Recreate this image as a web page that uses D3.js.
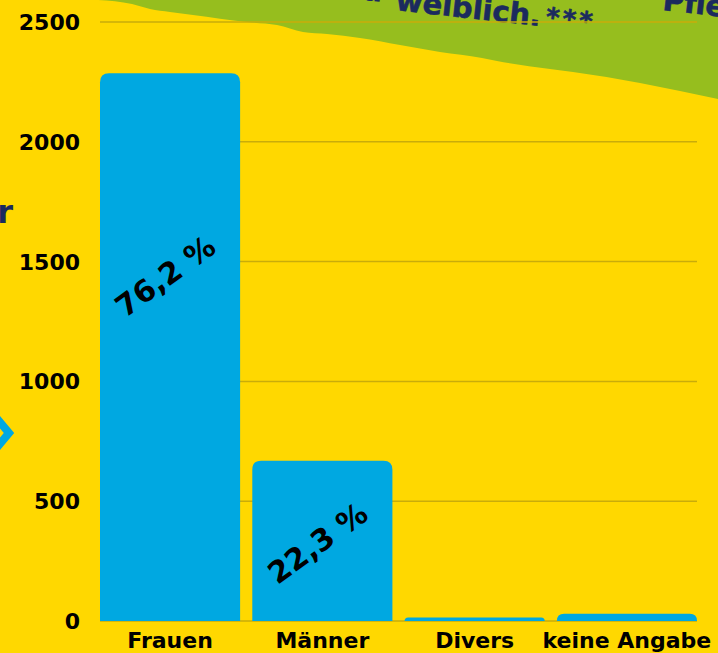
<!DOCTYPE html>
<html>
<head>
<meta charset="utf-8">
<script src="https://cdn.jsdelivr.net/npm/d3@7"></script>
<style>
  body { margin: 0; background: #ffd800; }
  svg { display: block; }
</style>
</head>
<body>
<svg id="chart" width="718" height="653"></svg>
<script>
// Data
const categories = ["Frauen", "Männer", "Divers", "keine Angabe"];
const values = [2286, 669, 15, 30];
const shareLabels = ["76,2 %", "22,3 %", "", ""];
const shareLabelAt = [1440, 326]; // value at which the share label is centred
const yTicks = [0, 500, 1000, 1500, 2000, 2500];

// Colours
const YELLOW = "#ffd800";
const GREEN = "#96be1e";
const BLUE = "#00a8e1";
const NAVY = "#1b2a5e";
const GRID = "#c9ac0a";
const FONT = "'DejaVu Sans', sans-serif";

const svg = d3.select("#chart");
const W = 718;

const x = d3.scaleBand().domain(categories).range([100, 697]).paddingInner(0.08).paddingOuter(0);
const y = d3.scaleLinear().domain([0, 2500]).range([621, 22]);

svg.append("rect").attr("width", W).attr("height", 653).attr("fill", YELLOW);

// Green decoration band in the top right corner
const bandEdge = [
  [98, 0], [132, 4], [150, 9], [170, 12], [193, 15], [247, 22], [277, 25],
  [303, 32], [327, 34], [360, 38], [400, 45], [440, 52], [482, 58], [497, 61],
  [550, 69], [573, 72], [640, 83], [680, 91], [718, 99]
];
const bandPath = d3.line().curve(d3.curveMonotoneX)(bandEdge) + `L${W},0Z`;
svg.append("path").attr("d", bandPath).attr("fill", GREEN);

const bandText = svg.append("g")
  .attr("fill", NAVY)
  .attr("font-family", FONT)
  .attr("font-weight", "bold");

bandText.append("text")
  .attr("transform", "translate(395,10) rotate(6.3)")
  .attr("font-size", 29)
  .attr("stroke", NAVY)
  .attr("stroke-width", 0.6)
  .text("weiblich.")
  .append("tspan")
  .attr("font-size", 26)
  .attr("dx", 5)
  .attr("dy", -1)
  .attr("letter-spacing", 3)
  .text("***");

bandText.append("text")
  .attr("transform", "translate(382,2) rotate(6.3)")
  .attr("font-size", 29)
  .attr("text-anchor", "end")
  .text("sind");

bandText.append("text")
  .attr("transform", "translate(662,10) rotate(6.3)")
  .attr("font-size", 29)
  .attr("stroke", NAVY)
  .attr("stroke-width", 0.6)
  .text("Pflege");

// Left edge fragments
svg.append("text")
  .attr("x", 13)
  .attr("y", 223)
  .attr("text-anchor", "end")
  .attr("font-family", FONT)
  .attr("font-weight", "bold")
  .attr("font-size", 32)
  .attr("fill", NAVY)
  .text("er");

svg.append("path")
  .attr("d", "M-6,415L9,433L-6,451")
  .attr("fill", "none")
  .attr("stroke", BLUE)
  .attr("stroke-width", 8);

// Grid lines
svg.append("g")
  .selectAll("line")
  .data(yTicks)
  .join("line")
  .attr("x1", x.range()[0])
  .attr("x2", x.range()[1])
  .attr("y1", (d) => y(d))
  .attr("y2", (d) => y(d))
  .attr("stroke", GRID)
  .attr("stroke-width", 1.5);

// Y tick labels
svg.append("g")
  .selectAll("text")
  .data(yTicks)
  .join("text")
  .attr("x", 80)
  .attr("y", (d) => y(d))
  .attr("dy", "0.36em")
  .attr("text-anchor", "end")
  .attr("font-family", FONT)
  .attr("font-weight", "bold")
  .attr("font-size", 22)
  .attr("fill", "#000")
  .text((d) => d);

// Bars with rounded top corners
function topRounded(x0, y0, w, h, r) {
  r = Math.min(r, h, w / 2);
  return `M${x0},${y0 + h}V${y0 + r}Q${x0},${y0} ${x0 + r},${y0}` +
    `H${x0 + w - r}Q${x0 + w},${y0} ${x0 + w},${y0 + r}V${y0 + h}Z`;
}

svg.append("g")
  .selectAll("path")
  .data(categories)
  .join("path")
  .attr("d", (d, i) => topRounded(x(d), y(values[i]), x.bandwidth(), y(0) - y(values[i]), 9))
  .attr("fill", BLUE);

// Share labels inside bars
svg.append("g")
  .selectAll("text")
  .data(categories.filter((d, i) => shareLabels[i]))
  .join("text")
  .attr("transform", (d, i) =>
    `translate(${x(d) + x.bandwidth() / 2 - 5},${y(shareLabelAt[i])}) rotate(-36)`)
  .attr("dy", "0.36em")
  .attr("text-anchor", "middle")
  .attr("font-family", FONT)
  .attr("font-weight", "bold")
  .attr("font-size", 30)
  .attr("fill", "#000")
  .text((d, i) => shareLabels[i]);

// Category labels
svg.append("g")
  .selectAll("text")
  .data(categories)
  .join("text")
  .attr("x", (d) => x(d) + x.bandwidth() / 2)
  .attr("y", 648)
  .attr("text-anchor", "middle")
  .attr("font-family", FONT)
  .attr("font-weight", "bold")
  .attr("font-size", 22)
  .attr("fill", "#000")
  .text((d) => d);
</script>
</body>
</html>
